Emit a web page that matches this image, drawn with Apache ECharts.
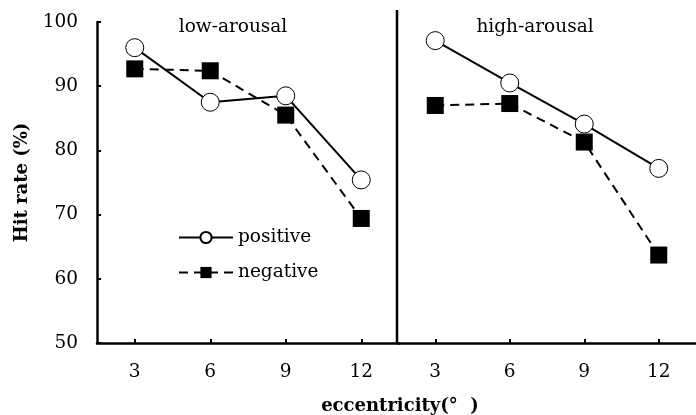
<!DOCTYPE html>
<html>
<head>
<meta charset="utf-8">
<script src="https://cdn.jsdelivr.net/npm/echarts@6/dist/echarts.min.js"></script>
<style>
html,body{margin:0;padding:0;background:#fff;}
#c{width:696px;height:415px;}
</style>
</head>
<body>
<div id="c"></div>
<script>
var categories = ['3', '6', '9', '12'];
var panelTitles = ['low-arousal', 'high-arousal'];
var lowPositive = [96.0, 87.5, 88.5, 75.4];
var lowNegative = [92.7, 92.4, 85.5, 69.4];
var highPositive = [97.1, 90.5, 84.1, 77.2];
var highNegative = [87.0, 87.3, 81.3, 63.7];
var yMin = 50, yMax = 100, yStep = 10;
var yName = 'Hit rate (%)';
var xName = 'eccentricity(°  )';

var FONT = 'DejaVu Serif';
var FS = 18.5;
var FSB = 18;
var chart = echarts.init(document.getElementById('c'), null, {renderer: 'canvas'});

function xAxisCfg(gi) {
  return {
    type: 'category', gridIndex: gi, data: categories, boundaryGap: true,
    axisLine: {show: true, lineStyle: {color: '#000', width: 2.5}},
    axisTick: {show: true, inside: true, alignWithLabel: true, length: 4, lineStyle: {color: '#000', width: 2}},
    axisLabel: {color: '#000', fontFamily: FONT, fontSize: FS, margin: 20},
    splitLine: {show: false}
  };
}
function posSeries(name, data, gi) {
  return {
    name: name, type: 'line', xAxisIndex: gi, yAxisIndex: gi, data: data,
    symbol: 'circle', symbolSize: 18, z: 3,
    lineStyle: {color: '#000', width: 2, type: 'solid'},
    itemStyle: {color: '#fff', borderColor: '#000', borderWidth: 1},
    emphasis: {disabled: true}, animation: false
  };
}
function negSeries(name, data, gi) {
  return {
    name: name, type: 'line', xAxisIndex: gi, yAxisIndex: gi, data: data,
    symbol: 'rect', symbolSize: 17, z: 2,
    lineStyle: {color: '#000', width: 2, type: [9, 6]},
    itemStyle: {color: '#000', borderColor: '#000', borderWidth: 0},
    emphasis: {disabled: true}, animation: false
  };
}

var option = {
  backgroundColor: '#fff',
  animation: false,
  grid: [
    {left: 97, top: 22, width: 302, height: 321},
    {left: 398, top: 22, width: 301, height: 321}
  ],
  xAxis: [xAxisCfg(0), xAxisCfg(1)],
  yAxis: [
    {
      type: 'value', gridIndex: 0, min: yMin, max: yMax, interval: yStep,
      name: yName, nameLocation: 'middle', nameGap: 66, nameRotate: 90,
      nameTextStyle: {color: '#000', fontFamily: FONT, fontSize: FSB, fontWeight: 'bold'},
      axisLine: {show: true, lineStyle: {color: '#000', width: 2.5}},
      axisTick: {show: true, inside: true, length: 4, lineStyle: {color: '#000', width: 2}},
      axisLabel: {color: '#000', fontFamily: FONT, fontSize: FS, margin: 19},
      splitLine: {show: false}
    },
    {
      type: 'value', gridIndex: 1, min: yMin, max: yMax, interval: yStep, show: false
    }
  ],
  legend: {
    orient: 'vertical', left: 178, top: 228, padding: 0,
    itemWidth: 54, itemHeight: 14, itemGap: 16,
    data: ['positive', 'negative'],
    textStyle: {color: '#000', fontFamily: FONT, fontSize: FS},
    selectedMode: false
  },
  series: [
    negSeries('negative', lowNegative, 0),
    posSeries('positive', lowPositive, 0),
    negSeries('negative', highNegative, 1),
    posSeries('positive', highPositive, 1)
  ],
  graphic: [
    {type: 'line', shape: {x1: 397, y1: 10, x2: 397, y2: 343}, style: {stroke: '#000', lineWidth: 2.5}, z: 10},
    {type: 'text', x: 233, y: 27, style: {text: panelTitles[0], fill: '#000', font: FS + 'px "' + FONT + '"', textAlign: 'center', textVerticalAlign: 'middle'}},
    {type: 'text', x: 535, y: 27, style: {text: panelTitles[1], fill: '#000', font: FS + 'px "' + FONT + '"', textAlign: 'center', textVerticalAlign: 'middle'}},
    {type: 'text', x: 400, y: 406, style: {text: xName, fill: '#000', font: 'bold ' + FSB + 'px "' + FONT + '"', textAlign: 'center', textVerticalAlign: 'middle'}}
  ]
};
chart.setOption(option);
</script>
</body>
</html>
